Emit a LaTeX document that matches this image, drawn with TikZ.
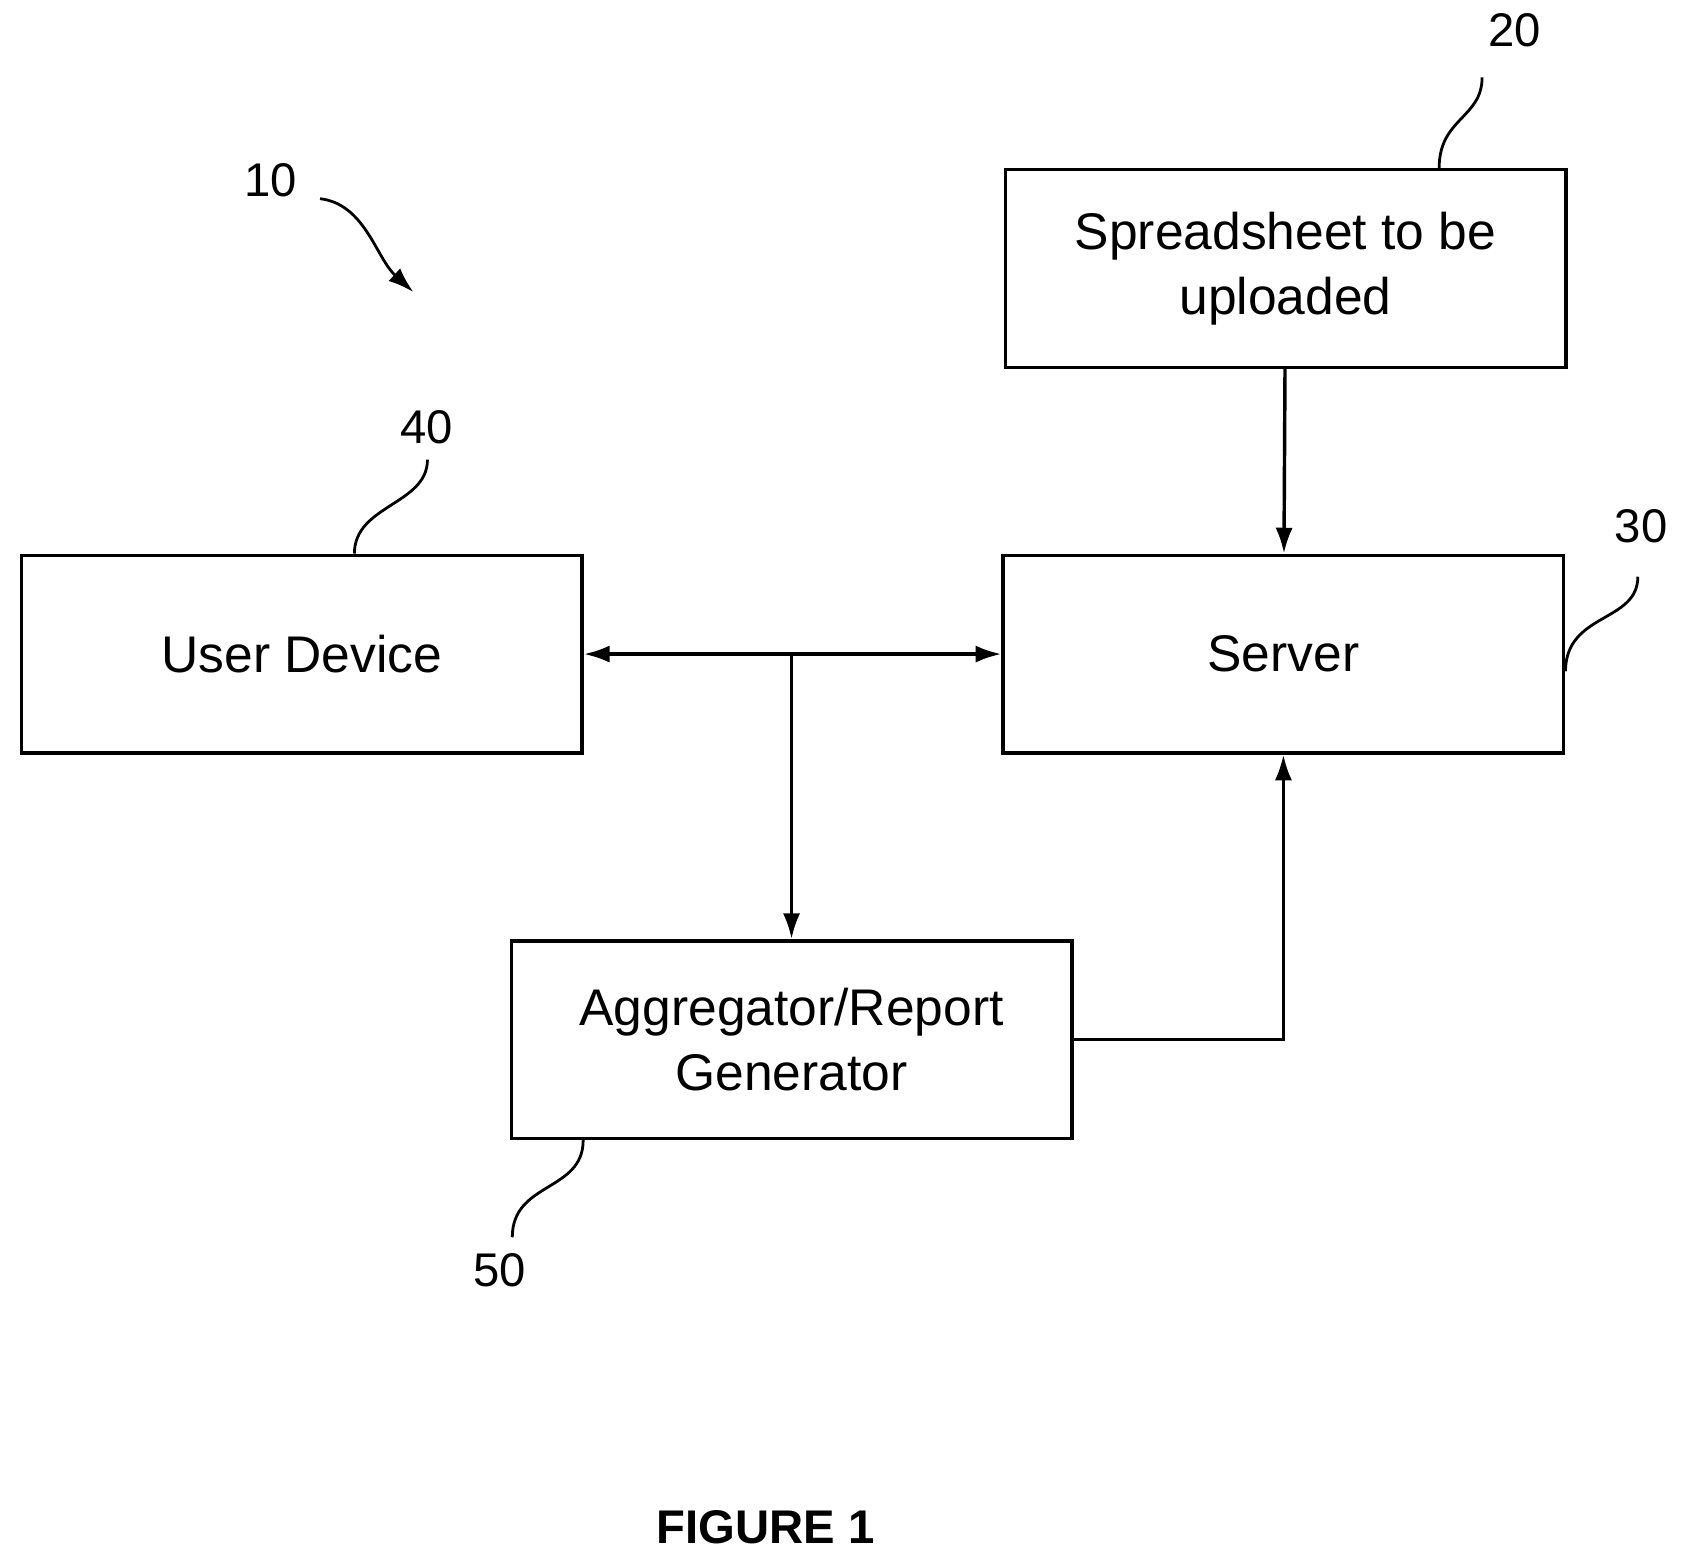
\documentclass[tikz,border=0pt]{standalone}
\usepackage{fontspec}
\setmainfont{Liberation Sans}
\usetikzlibrary{arrows.meta}
\begin{document}
\begin{tikzpicture}[x=0.5pt,y=-0.5pt,line width=1.6pt,>={Latex[length=12pt,width=8pt]},
  block/.style={draw,rectangle,minimum width=261pt,minimum height=92pt,align=center,
    font=\fontsize{24}{30}\selectfont,inner sep=0pt},
  num/.style={font=\fontsize{22}{26}\selectfont},
  lead/.style={line width=1.3pt}]
  \useasboundingbox (0,0) rectangle (1568,1456);
  \node[block] (sheet) at (1197,250) {Spreadsheet to be\\uploaded};
  \node[block] (server) at (1195,609) {Server};
  \node[block] (user) at (281,609) {User Device};
  \node[block] (agg) at (737,968) {Aggregator/Report\\Generator};
  \coordinate (jn) at (737,608);
  \node[num] (n10) at (252,168) {10};
  \node[num] (n20) at (1410,28) {20};
  \node[num] (n40) at (397,398) {40};
  \node[num] (n30) at (1528,490) {30};
  \node[num] (n50) at (465,1183) {50};
  \node[font=\bfseries\fontsize{22}{26}\selectfont] (fig) at (713,1422) {FIGURE 1};
  \draw[->] (sheet) -- (server);
  \draw[<->] (user) -- (server);
  \draw[->] (jn) -- (agg);
  \draw[->] (agg.east) -| (server.south);
  \draw[lead,->] (298,185) .. controls (340,190) and (350,240) .. (385,272);
  \draw[lead] (sheet.north -| 1340,0) .. controls (1340,110) and (1380,110) .. (1380,72);
  \draw[lead] (user.north -| 330,0) .. controls (330,470) and (398,470) .. (398,428);
  \draw[lead] (server.east |- 0,625) .. controls (1458,570) and (1525,580) .. (1525,537);
  \draw[lead] (agg.south -| 543,0) .. controls (543,1110) and (477,1100) .. (477,1152);
\end{tikzpicture}
\end{document}
